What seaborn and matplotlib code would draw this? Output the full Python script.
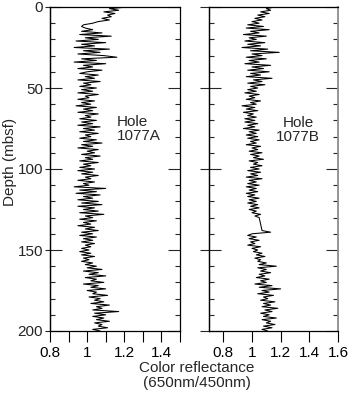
import matplotlib
matplotlib.use('Agg')
import matplotlib.pyplot as plt
import seaborn as sns
from matplotlib.ticker import MultipleLocator

sns.set_style('ticks')
plt.rcParams['font.family'] = ['Liberation Sans', 'DejaVu Sans']

# ---- data (1 m sampling) ----
depth_a = list(range(0, 201))
refl_a = [
    1.22, 1.12, 1.17, 1.09, 1.15, 1.11, 1.13, 1.08, 1.12, 1.06, 1.03,
    0.98, 0.97, 0.99, 1.03, 0.97, 1.08, 0.96, 1.13, 0.99, 1.06,
    0.94, 1.10, 0.97, 1.04, 0.93, 1.12, 0.98, 1.07, 0.95, 1.09,
    1.16, 0.97, 1.05, 0.93, 1.10, 0.98, 1.03, 0.95, 1.08, 1.00,
    0.96, 1.06, 0.99, 1.04, 0.95, 1.07, 0.98, 1.02, 0.96, 1.05,
    0.97, 1.03, 0.95, 1.06, 0.99, 1.01, 0.95, 1.04, 0.97, 1.02,
    0.94, 1.05, 0.98, 1.03, 0.95, 1.06, 0.99, 1.02, 0.96, 1.05,
    0.97, 1.03, 0.95, 1.07, 0.98, 1.04, 0.96, 1.06, 0.99, 1.02,
    0.96, 1.05, 0.98, 1.08, 0.97, 1.03, 0.95, 1.06, 1.00, 1.04,
    0.97, 1.07, 0.99, 1.03, 0.96, 1.06, 0.98, 1.02, 0.96, 1.04,
    0.95, 1.03, 0.97, 1.06, 0.99, 1.02, 0.95, 1.04, 0.98, 1.01,
    0.93, 1.10, 0.96, 1.05, 0.94, 1.07, 0.98, 1.03, 0.95, 1.06,
    0.97, 1.08, 0.95, 1.04, 0.98, 1.06, 0.96, 1.09, 0.99, 1.03,
    0.96, 1.05, 0.98, 1.02, 0.95, 1.04, 0.99, 1.06, 0.97, 1.03,
    0.96, 1.05, 0.98, 1.03, 0.97, 1.04, 0.99, 1.02, 0.97, 1.01,
    0.96, 1.02, 0.97, 1.04, 0.98, 1.01, 0.97, 1.03, 0.99, 1.05,
    1.00, 1.08, 0.98, 1.06, 1.01, 1.10, 0.99, 1.05, 1.02, 1.09,
    0.98, 1.06, 1.02, 1.10, 1.00, 1.05, 1.03, 1.11, 1.01, 1.07,
    1.04, 1.09, 1.02, 1.12, 1.05, 1.08, 1.03, 1.17, 1.04, 1.10,
    1.03, 1.09, 1.05, 1.12, 1.04, 1.08, 1.06, 1.11, 1.03, 1.07,
]

depth_b = list(range(0, 131)) + list(range(138, 201))
refl_b = [
    1.16, 1.10, 1.13, 1.06, 1.12, 1.04, 1.09, 1.02, 1.07, 1.00, 1.05,
    0.97, 1.08, 0.96, 1.12, 0.99, 1.05, 0.94, 1.10, 0.98, 1.03,
    0.95, 1.09, 0.97, 1.06, 0.93, 1.11, 0.99, 1.19, 1.00, 1.07,
    0.96, 1.10, 0.98, 1.05, 0.95, 1.13, 1.00, 1.08, 0.97, 1.12,
    0.99, 1.06, 0.96, 1.14, 1.01, 1.07, 0.97, 1.09, 0.99, 1.04,
    0.97, 1.03, 0.95, 1.05, 0.98, 1.02, 0.96, 1.06, 0.99, 1.03,
    0.93, 1.02, 0.96, 1.04, 0.94, 1.01, 0.97, 1.03, 0.95, 1.02,
    0.95, 1.04, 0.97, 1.02, 0.94, 1.05, 0.98, 1.03, 0.96, 1.04,
    0.97, 1.05, 0.99, 1.03, 0.96, 1.06, 1.00, 1.04, 0.98, 1.07,
    0.99, 1.05, 1.01, 1.08, 0.98, 1.04, 1.01, 1.07, 0.99, 1.05,
    0.97, 1.06, 0.99, 1.04, 0.96, 1.07, 0.98, 1.03, 0.97, 1.05,
    0.96, 1.03, 0.98, 1.04, 0.96, 1.02, 0.97, 1.05, 0.98, 1.03,
    0.97, 1.04, 0.99, 1.05, 0.98, 1.03, 1.00, 1.06, 1.02, 1.05,
    1.07, 1.13, 1.00,
    0.97, 1.03, 0.98, 1.05, 0.99, 1.02, 0.97, 1.06, 1.00, 1.04,
    1.01, 1.07, 1.03, 1.09, 1.02, 1.06, 1.04, 1.10, 1.05, 1.17,
    1.04, 1.10, 1.06, 1.13, 1.05, 1.09, 1.03, 1.12, 1.06, 1.10,
    1.02, 1.14, 1.05, 1.20, 1.07, 1.12, 1.04, 1.15, 1.08, 1.11,
    1.06, 1.16, 1.08, 1.13, 1.07, 1.18, 1.09, 1.14, 1.06, 1.12,
    1.08, 1.17, 1.07, 1.13, 1.10, 1.16, 1.08, 1.14, 1.07, 1.11,
]

ticks_a = [0.8, 1.0, 1.2, 1.4]
ticklabels_a = ['0.8', '1', '1.2', '1.4']
minor_a = [0.9, 1.1, 1.3, 1.5]
ticks_b = [0.8, 1.0, 1.2, 1.4, 1.6]
ticklabels_b = ['0.8', '1', '1.2', '1.4', '1.6']
depth_ticks = [0, 50, 100, 150, 200]

W, H = 353, 395
PX = 72 / 100.0

fig = plt.figure(figsize=(W / 100, H / 100), dpi=100)
fig.patch.set_facecolor('white')


def add_ax(x0, x1, y0, y1):
    return fig.add_axes([x0 / W, 1 - y1 / H, (x1 - x0) / W, (y1 - y0) / H])


axA = add_ax(50, 180, 7, 331)
axB = add_ax(209, 338, 7, 331)

FS = 11

panels = [
    (axA, depth_a, refl_a, (0.8, 1.5), ticks_a, ticklabels_a, minor_a, True, 5),
    (axB, depth_b, refl_b, (0.7, 1.6), ticks_b, ticklabels_b, [], False, 9),
]

for ax, d, v, xlim, xt, xtl, xminor, labels, outlen in panels:
    sns.lineplot(x=v, y=d, orient='y', sort=False, estimator=None,
                 color='black', lw=0.75, ax=ax)
    ax.set_xlim(*xlim)
    ax.set_ylim(200, 0)
    ax.set_xlabel('')
    ax.set_ylabel('')
    for s in ax.spines.values():
        s.set_color('black')
        s.set_linewidth(0.9)
    ax.set_xticks(xt)
    ax.set_xticklabels(xtl, fontsize=FS)
    ax.set_xticks(xminor, minor=True)
    ax.tick_params(axis='x', which='both', direction='out', length=11 * PX,
                   width=0.8, top=False, bottom=True, pad=3, colors='black')
    ax.set_yticks(depth_ticks)
    ax.yaxis.set_minor_locator(MultipleLocator(10))
    ax.tick_params(axis='y', which='major', direction='in', length=12 * PX,
                   width=0.8, left=True, right=True, labelleft=False)
    ax.tick_params(axis='y', which='minor', direction='in', length=5 * PX,
                   width=0.8, left=True, right=True)
    sec = ax.secondary_yaxis('left')
    sec.set_yticks(depth_ticks)
    sec.spines['left'].set_linewidth(0.9)
    sec.tick_params(axis='y', which='major', direction='out',
                    length=outlen * PX, width=0.8, labelleft=labels,
                    labelsize=FS, pad=1.5)
    sec.tick_params(axis='y', which='minor', length=0)
    if not labels:
        sec.set_yticklabels([])

axB.spines['right'].set_color('#8c8c8c')
axB.spines['right'].set_linewidth(1.3)

axA.text(1.158, 75.6, 'Hole\n1077A', ha='left', va='center',
         fontsize=11, linespacing=1.0)
axB.text(1.321, 76.2, 'Hole\n1077B', ha='center', va='center',
         multialignment='center', fontsize=11, linespacing=1.0)

fig.text(197 / W, 1 - 361 / H, 'Color reflectance\n(650nm/450nm)',
         ha='center', va='top', fontsize=11, linespacing=1.05)
fig.text(10 / W, 1 - 162 / H, 'Depth (mbsf)', rotation=90,
         ha='center', va='center', fontsize=11)

fig.savefig('out.png', dpi=100, facecolor='white')
